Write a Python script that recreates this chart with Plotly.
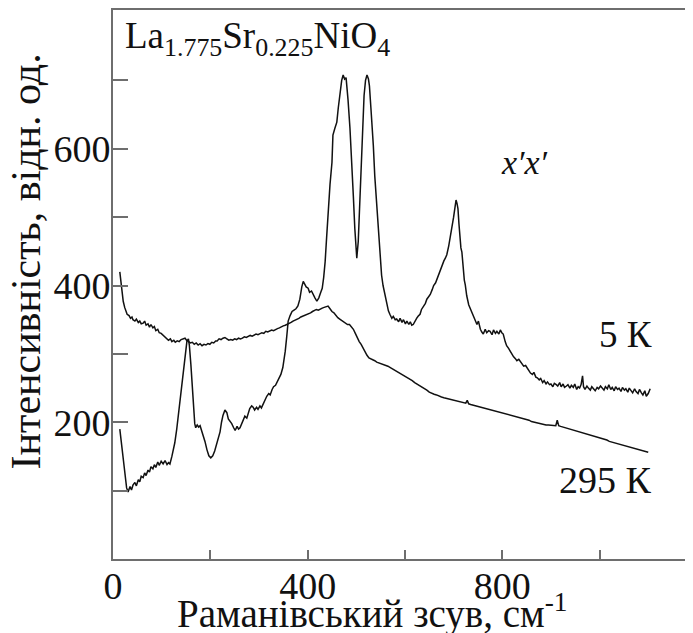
import plotly.graph_objects as go

# --- data (Raman shift in cm-1, intensity in arb. units) ---
wn_5k = [14, 18, 21, 25, 28, 31, 35, 38, 41, 45, 48, 52, 55, 58, 62, 65, 68, 72, 75, 78,
         82, 85, 88, 92, 95, 99, 103, 107, 111, 114, 117, 121, 124, 127, 131, 135, 139, 142, 146, 149,
         152, 155, 157, 160, 162, 164, 166, 168, 170, 173, 176, 179, 182, 185, 189, 193, 197, 201, 205, 209,
         213, 217, 220, 223, 226, 230, 234, 237, 240, 244, 248, 251, 255, 258, 261, 265, 268, 271, 275, 278,
         281, 285, 288, 291, 295, 298, 302, 305, 308, 312, 316, 320, 323, 327, 330, 334, 337, 341, 345, 349,
         352, 354, 357, 360, 364, 368, 372, 376, 380, 384, 388, 391, 394, 397, 401, 404, 408, 411, 415, 419,
         423, 427, 430, 433, 436, 439, 442, 446, 450, 452, 456, 460, 463, 467, 470, 473, 476, 479, 481, 483,
         487, 491, 494, 497, 499, 501, 504, 507, 509, 511, 514, 516, 519, 522, 525, 527, 530, 533, 535, 538,
         542, 545, 549, 552, 555, 559, 563, 566, 569, 573, 576, 580, 583, 587, 590, 594, 597, 601, 604, 608,
         611, 614, 617, 620, 624, 627, 631, 634, 638, 642, 645, 649, 652, 656, 659, 663, 666, 669, 673, 676,
         680, 683, 686, 690, 693, 697, 700, 703, 705, 707, 709, 711, 713, 715, 717, 720, 722, 724, 727, 731,
         734, 737, 740, 744, 748, 751, 755, 758, 761, 765, 768, 772, 775, 779, 782, 786, 789, 793, 796, 799,
         802, 806, 809, 813, 816, 820, 823, 827, 830, 834, 837, 841, 844, 848, 851, 855, 858, 862, 865, 869,
         872, 876, 879, 883, 886, 890, 893, 897, 900, 904, 907, 911, 914, 918, 921, 925, 928, 932, 935, 939,
         942, 946, 949, 953, 956, 959, 962, 965, 967, 970, 974, 977, 981, 984, 988, 991, 995, 998, 1002, 1005,
         1009, 1012, 1016, 1019, 1023, 1026, 1030, 1033, 1037, 1040, 1044, 1047, 1051, 1054, 1058, 1061, 1065, 1068, 1072, 1075,
         1079, 1082, 1086, 1089, 1093, 1096, 1100, 1104]
int_5k = [190, 165, 148, 115, 104, 98, 106, 101, 108, 112, 107, 116, 113, 121, 119, 126, 122, 130, 127, 135,
          132, 138, 134, 142, 137, 143, 139, 144, 138, 141, 139, 150, 160, 170, 190, 215, 240, 256, 285, 305,
          319, 322, 312, 285, 262, 240, 215, 198, 192, 196, 193, 195, 188, 182, 172, 160, 151, 148, 151, 158,
          167, 178, 186, 200, 210, 218, 214, 205, 202, 198, 192, 188, 194, 190, 192, 200, 204, 209, 206, 214,
          220, 224, 222, 218, 222, 219, 224, 221, 226, 234, 238, 242, 240, 248, 252, 254, 258, 264, 270, 280,
          292, 304, 325, 348, 356, 362, 364, 366, 370, 380, 398, 406, 402, 398, 396, 390, 392, 387, 382, 377,
          382, 390, 396, 412, 435, 470, 508, 548, 580, 620, 630, 639, 660, 687, 700, 708, 702, 704, 690, 672,
          630, 580, 530, 483, 450, 440, 464, 520, 560, 605, 650, 678, 700, 708, 702, 692, 660, 630, 605, 560,
          518, 475, 435, 415, 400, 387, 372, 363, 358, 352, 355, 350, 351, 347, 352, 346, 350, 344, 348, 343,
          347, 342, 343, 348, 352, 355, 358, 365, 370, 374, 380, 384, 387, 394, 400, 404, 410, 416, 422, 428,
          436, 440, 445, 458, 470, 483, 500, 515, 525, 520, 512, 490, 470, 455, 449, 420, 408, 401, 385, 372,
          367, 362, 358, 350, 343, 348, 336, 332, 329, 336, 331, 334, 333, 328, 335, 330, 333, 329, 335, 331,
          329, 318, 312, 308, 304, 300, 296, 293, 290, 292, 289, 285, 282, 283, 279, 276, 272, 270, 273, 266,
          265, 262, 264, 258, 261, 256, 259, 255, 256, 252, 257, 255, 253, 258, 252, 256, 251, 253, 255, 250,
          254, 251, 256, 248, 252, 250, 255, 268, 252, 248, 253, 250, 247, 252, 249, 246, 251, 249, 253, 250,
          247, 252, 249, 255, 248, 251, 246, 252, 248, 250, 245, 251, 247, 249, 244, 250, 246, 243, 249, 245,
          242, 248, 243, 240, 246, 238, 242, 249]

wn_295k = [14, 17, 19, 21, 24, 27, 29, 33, 36, 39, 41, 45, 48, 52, 55, 58, 62, 65, 68, 72,
           75, 78, 82, 85, 88, 92, 95, 99, 103, 107, 111, 114, 118, 121, 125, 128, 132, 136, 140, 144,
           148, 151, 155, 159, 163, 167, 171, 175, 179, 183, 187, 191, 195, 199, 203, 207, 211, 214, 218, 222,
           226, 230, 234, 238, 242, 246, 250, 254, 258, 262, 266, 270, 274, 278, 282, 286, 290, 294, 298, 302,
           306, 310, 314, 318, 322, 326, 330, 334, 338, 342, 346, 350, 354, 358, 362, 366, 370, 374, 378, 382,
           386, 390, 394, 398, 402, 406, 410, 414, 418, 422, 426, 430, 434, 438, 442, 446, 450, 454, 458, 462,
           466, 470, 474, 478, 482, 486, 490, 494, 498, 502, 506, 510, 514, 518, 522, 526, 530, 534, 538, 542,
           546, 550, 555, 560, 565, 570, 575, 580, 585, 590, 595, 600, 605, 610, 615, 620, 625, 630, 635, 640,
           645, 650, 655, 660, 665, 670, 675, 680, 685, 690, 695, 700, 705, 710, 715, 720, 725, 728, 731, 735,
           740, 745, 750, 755, 760, 765, 770, 775, 780, 785, 790, 795, 800, 805, 810, 815, 820, 825, 830, 835,
           840, 845, 850, 855, 860, 865, 870, 875, 880, 885, 890, 895, 900, 905, 910, 913, 916, 920, 925, 930,
           935, 940, 945, 950, 955, 960, 965, 970, 975, 980, 985, 990, 995, 1000, 1005, 1010, 1015, 1020, 1025, 1030,
           1035, 1040, 1045, 1050, 1055, 1060, 1065, 1070, 1075, 1080, 1085, 1090, 1095, 1100]
int_295k = [420, 400, 385, 377, 368, 362, 358, 356, 352, 354, 350, 348, 351, 346, 348, 344, 345, 348, 342, 344,
            339, 343, 338, 340, 334, 336, 331, 330, 327, 324, 321, 320, 322, 318, 320, 317, 319, 318, 321, 322,
            323, 320, 318, 316, 317, 314, 316, 313, 315, 312, 314, 313, 315, 314, 317, 316, 319, 319, 322, 321,
            323, 324, 322, 320, 321, 320, 322, 321, 323, 322, 323, 325, 324, 326, 327, 326, 328, 329, 328, 330,
            331, 330, 333, 332, 334, 335, 334, 336, 337, 338, 340, 341, 342, 343, 345, 346, 348, 349, 351, 352,
            354, 355, 356, 358, 359, 360, 362, 363, 365, 364, 366, 367, 368, 369, 370, 366, 362, 360, 356, 353,
            351, 349, 347, 345, 343, 343, 340, 336, 330, 323, 318, 314, 308, 302, 298, 294, 293, 291, 290, 288,
            287, 286, 285, 283, 282, 280, 278, 276, 274, 272, 270, 268, 266, 263, 261, 258, 256, 254, 251, 249,
            247, 244, 242, 241, 240, 238, 237, 236, 235, 234, 234, 233, 232, 231, 230, 229, 228, 232, 227, 226,
            225, 224, 223, 222, 221, 220, 220, 219, 218, 217, 216, 215, 214, 213, 212, 211, 210, 209, 208, 207,
            206, 205, 204, 203, 201, 200, 199, 198, 198, 197, 196, 196, 196, 195, 195, 203, 195, 194, 193, 192,
            191, 190, 189, 188, 187, 186, 185, 183, 182, 181, 180, 179, 178, 177, 176, 175, 174, 172, 171, 170,
            169, 168, 167, 166, 165, 164, 163, 163, 162, 160, 159, 158, 157, 156]

x_ticks = [0, 200, 400, 600, 800, 1000]
x_labels = ['0', '', '400', '', '800', '']
y_ticks = [100, 200, 300, 400, 500, 600, 700]
y_labels = ['', '200', '', '400', '', '600', '']

font_name = 'Liberation Serif'
axis_col = '#6e6e6e'

fig = go.Figure()
fig.add_trace(go.Scatter(x=wn_5k, y=int_5k, mode='lines', name='5 К',
                         line=dict(color='#111111', width=1.5)))
fig.add_trace(go.Scatter(x=wn_295k, y=int_295k, mode='lines', name='295 К',
                         line=dict(color='#111111', width=1.5)))

# the page body has an 8px margin, so the figure is sized to fit inside the window
fig.update_layout(
    width=685, height=625,
    margin=dict(l=105, r=0, t=0, b=74),
    paper_bgcolor='white', plot_bgcolor='white',
    showlegend=False,
    font=dict(family=font_name, size=36, color='#111111'),
)
fig.update_xaxes(range=[0, 1192], showgrid=False, zeroline=False,
                 showline=True, linecolor=axis_col, linewidth=2, mirror=True,
                 ticks='inside', ticklen=9, tickwidth=1.5, tickcolor=axis_col,
                 tickvals=x_ticks, ticktext=x_labels, tickfont=dict(size=38),
                 ticklabelstandoff=-8)
fig.update_yaxes(range=[0, 803], showgrid=False, zeroline=False,
                 showline=True, linecolor=axis_col, linewidth=2,
                 ticks='inside', ticklen=15, tickwidth=1.5, tickcolor=axis_col,
                 tickvals=y_ticks, ticktext=y_labels, tickfont=dict(size=38),
                 ticklabelstandoff=-7)

# axis titles as annotations (positioned like in the original)
fig.add_annotation(text='Раманівський зсув, см<sup>-1</sup>', xref='paper', yref='paper',
                   x=0.4466, y=-0.096, xanchor='center', yanchor='middle',
                   showarrow=False, font=dict(size=39))
fig.add_annotation(text='Інтенсивність, відн. од.', xref='paper', yref='paper',
                   x=-0.15, y=0.542, xanchor='center', yanchor='middle', textangle=-90,
                   showarrow=False, font=dict(size=42))

# labels inside the plot
fig.add_annotation(text='La<sub>1.775</sub>Sr<sub>0.225</sub>NiO<sub>4</sub>',
                   x=20, y=762, xanchor='left', yanchor='middle', showarrow=False,
                   font=dict(size=37))
fig.add_annotation(text='<i>x′x′</i>', x=845, y=580, xanchor='center', yanchor='middle',
                   showarrow=False, font=dict(size=34))
fig.add_annotation(text='5 К', x=1112, y=328, xanchor='right', yanchor='middle',
                   showarrow=False, font=dict(size=37))
fig.add_annotation(text='295 К', x=1112, y=115, xanchor='right', yanchor='middle',
                   showarrow=False, font=dict(size=38))

fig.write_html('out.html')
